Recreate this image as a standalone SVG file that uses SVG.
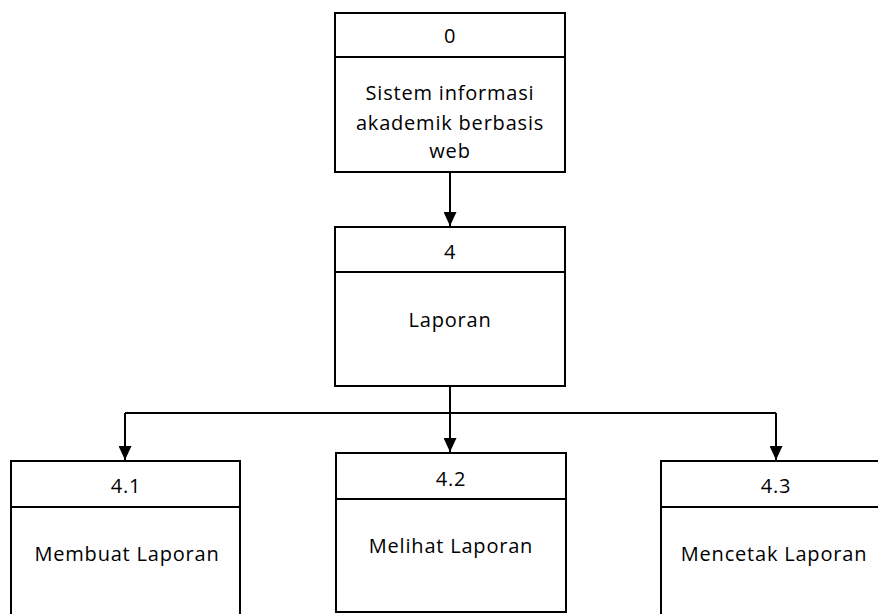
<svg xmlns="http://www.w3.org/2000/svg" width="878" height="614" viewBox="0 0 878 614">
<style>
.box{fill:#fff;stroke:#000;stroke-width:2}
.div{stroke:#000;stroke-width:2}
.t{font-family:"Open Sans","Noto Sans","Liberation Sans",sans-serif;font-size:20px;fill:#000;text-anchor:middle;letter-spacing:0.8px}
.c{fill:none;stroke:#000;stroke-width:2}
</style>
<defs>
<marker id="ah" markerWidth="14" markerHeight="13" refX="14" refY="6.5" orient="auto" markerUnits="userSpaceOnUse">
<path d="M0,0 L14,6.5 L0,13 Z" fill="#000"/>
</marker>
</defs>
<rect width="878" height="614" fill="#fff"/>
<g id="connectors">
<path class="c" d="M450,172 V226" marker-end="url(#ah)"/>
<path class="c" d="M450,386 V413"/>
<path class="c" d="M125,413 H776"/>
<path class="c" d="M125,413 V460" marker-end="url(#ah)"/>
<path class="c" d="M450,413 V452" marker-end="url(#ah)"/>
<path class="c" d="M776,413 V460" marker-end="url(#ah)"/>
</g>
<g id="node-0">
<rect class="box" x="335" y="13" width="230" height="159"/>
<line class="div" x1="335" y1="57" x2="565" y2="57"/>
<text class="t" x="450" y="43">0</text>
<text class="t" x="450" y="100">Sistem informasi</text>
<text class="t" x="450" y="130">akademik berbasis</text>
<text class="t" x="450" y="158">web</text>
</g>
<g id="node-4">
<rect class="box" x="335" y="227" width="230" height="159"/>
<line class="div" x1="335" y1="272" x2="565" y2="272"/>
<text class="t" x="450" y="259">4</text>
<text class="t" x="450" y="327">Laporan</text>
</g>
<g id="node-4-1">
<rect class="box" x="11" y="461" width="229" height="170"/>
<line class="div" x1="11" y1="507" x2="240" y2="507"/>
<text class="t" x="126" y="493">4.1</text>
<text class="t" x="127" y="561">Membuat Laporan</text>
</g>
<g id="node-4-2">
<rect class="box" x="336" y="453" width="230" height="159"/>
<line class="div" x1="336" y1="499" x2="566" y2="499"/>
<text class="t" x="451" y="486">4.2</text>
<text class="t" x="451" y="553">Melihat Laporan</text>
</g>
<g id="node-4-3">
<rect class="box" x="661" y="461" width="230" height="170"/>
<line class="div" x1="661" y1="507" x2="891" y2="507"/>
<text class="t" x="776" y="493">4.3</text>
<text class="t" x="774" y="561">Mencetak Laporan</text>
</g>
</svg>
